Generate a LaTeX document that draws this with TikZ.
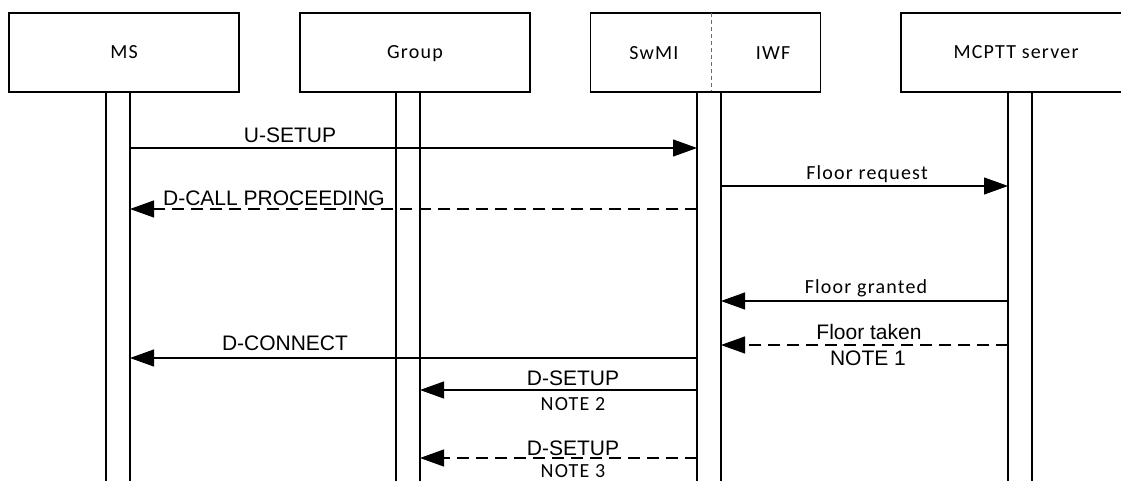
\documentclass[tikz,border=0pt]{standalone}
\usepackage{fontspec}
\setmainfont{Liberation Sans}
\newfontfamily\calfont[LetterSpace=6]{Carlito}
\usetikzlibrary{arrows.meta}
\begin{document}
\begin{tikzpicture}[x=1pt,y=-1pt,
  box/.style={draw, line width=1.1pt, minimum width=230pt, minimum height=79pt,
    inner sep=0pt, outer sep=0pt, text height=13pt, text depth=0pt,
    font=\calfont\fontsize{20}{24}\selectfont},
  lifebar/.style={draw, line width=1.2pt, minimum width=24pt, minimum height=410pt,
    inner sep=0pt, outer sep=0pt, anchor=north},
  msg/.style={line width=1.1pt, -{Triangle[length=24pt,width=17pt]}},
  dmsg/.style={msg, dash pattern=on 12pt off 7pt},
  arl/.style={font=\fontsize{21}{24}\selectfont, inner sep=0pt, anchor=base},
  cal/.style={font=\calfont\fontsize{20}{24}\selectfont, inner sep=0pt, anchor=base}]
\clip (0,0) rectangle (1121,481);
\fill[white] (0,0) rectangle (1121,481);
% header boxes
\node[box] (ms) at (124,52.5) {MS};
\node[box] (grp) at (415,52.5) {Group};
\node[box] (sw) at (705.5,52.5) {};
\node[box] (mc) at (1016,52.5) {MCPTT server};
\node[cal] (swl) at (654,60) {SwMI};
\node[cal] (iwf) at (773,60) {IWF};
\draw[gray!85!black, line width=1pt, dash pattern=on 4pt off 3pt] (sw.north -| 711,0) -- (sw.south -| 711,0);
% lifelines
\node[lifebar] (msb) at (118,92) {};
\node[lifebar] (grb) at (408,92) {};
\node[lifebar] (swb) at (709,92) {};
\node[lifebar] (mcb) at (1020,92) {};
% messages
\draw[msg] (msb.east |- 0,148) -- (swb.west |- 0,148);
\node[arl] (l1) at (290,143) {U-SETUP};
\draw[msg] (swb.east |- 0,186) -- (mcb.west |- 0,186);
\node[cal] (l2) at (867,180) {Floor request};
\draw[dmsg] (swb.west |- 0,209) -- (msb.east |- 0,209);
\node[arl] (l3) at (274,205) {D-CALL PROCEEDING};
\draw[msg] (mcb.west |- 0,301) -- (swb.east |- 0,301);
\node[cal] (l4) at (866,293) {Floor granted};
\draw[dmsg] (mcb.west |- 0,345) -- (swb.east |- 0,345);
\node[arl] (l5) at (869,339) {Floor taken};
\node[arl] (l5n) at (868,365) {NOTE 1};
\draw[msg] (swb.west |- 0,358) -- (msb.east |- 0,358);
\node[arl] (l6) at (285,350) {D-CONNECT};
\draw[msg] (swb.west |- 0,390) -- (grb.east |- 0,390);
\node[arl] (l7) at (573,385) {D-SETUP};
\node[cal] (l7n) at (573,410) {NOTE 2};
\draw[dmsg] (swb.west |- 0,458) -- (grb.east |- 0,458);
\node[arl] (l8) at (573,455) {D-SETUP};
\node[cal] (l8n) at (573,477) {NOTE 3};
\end{tikzpicture}
\end{document}
